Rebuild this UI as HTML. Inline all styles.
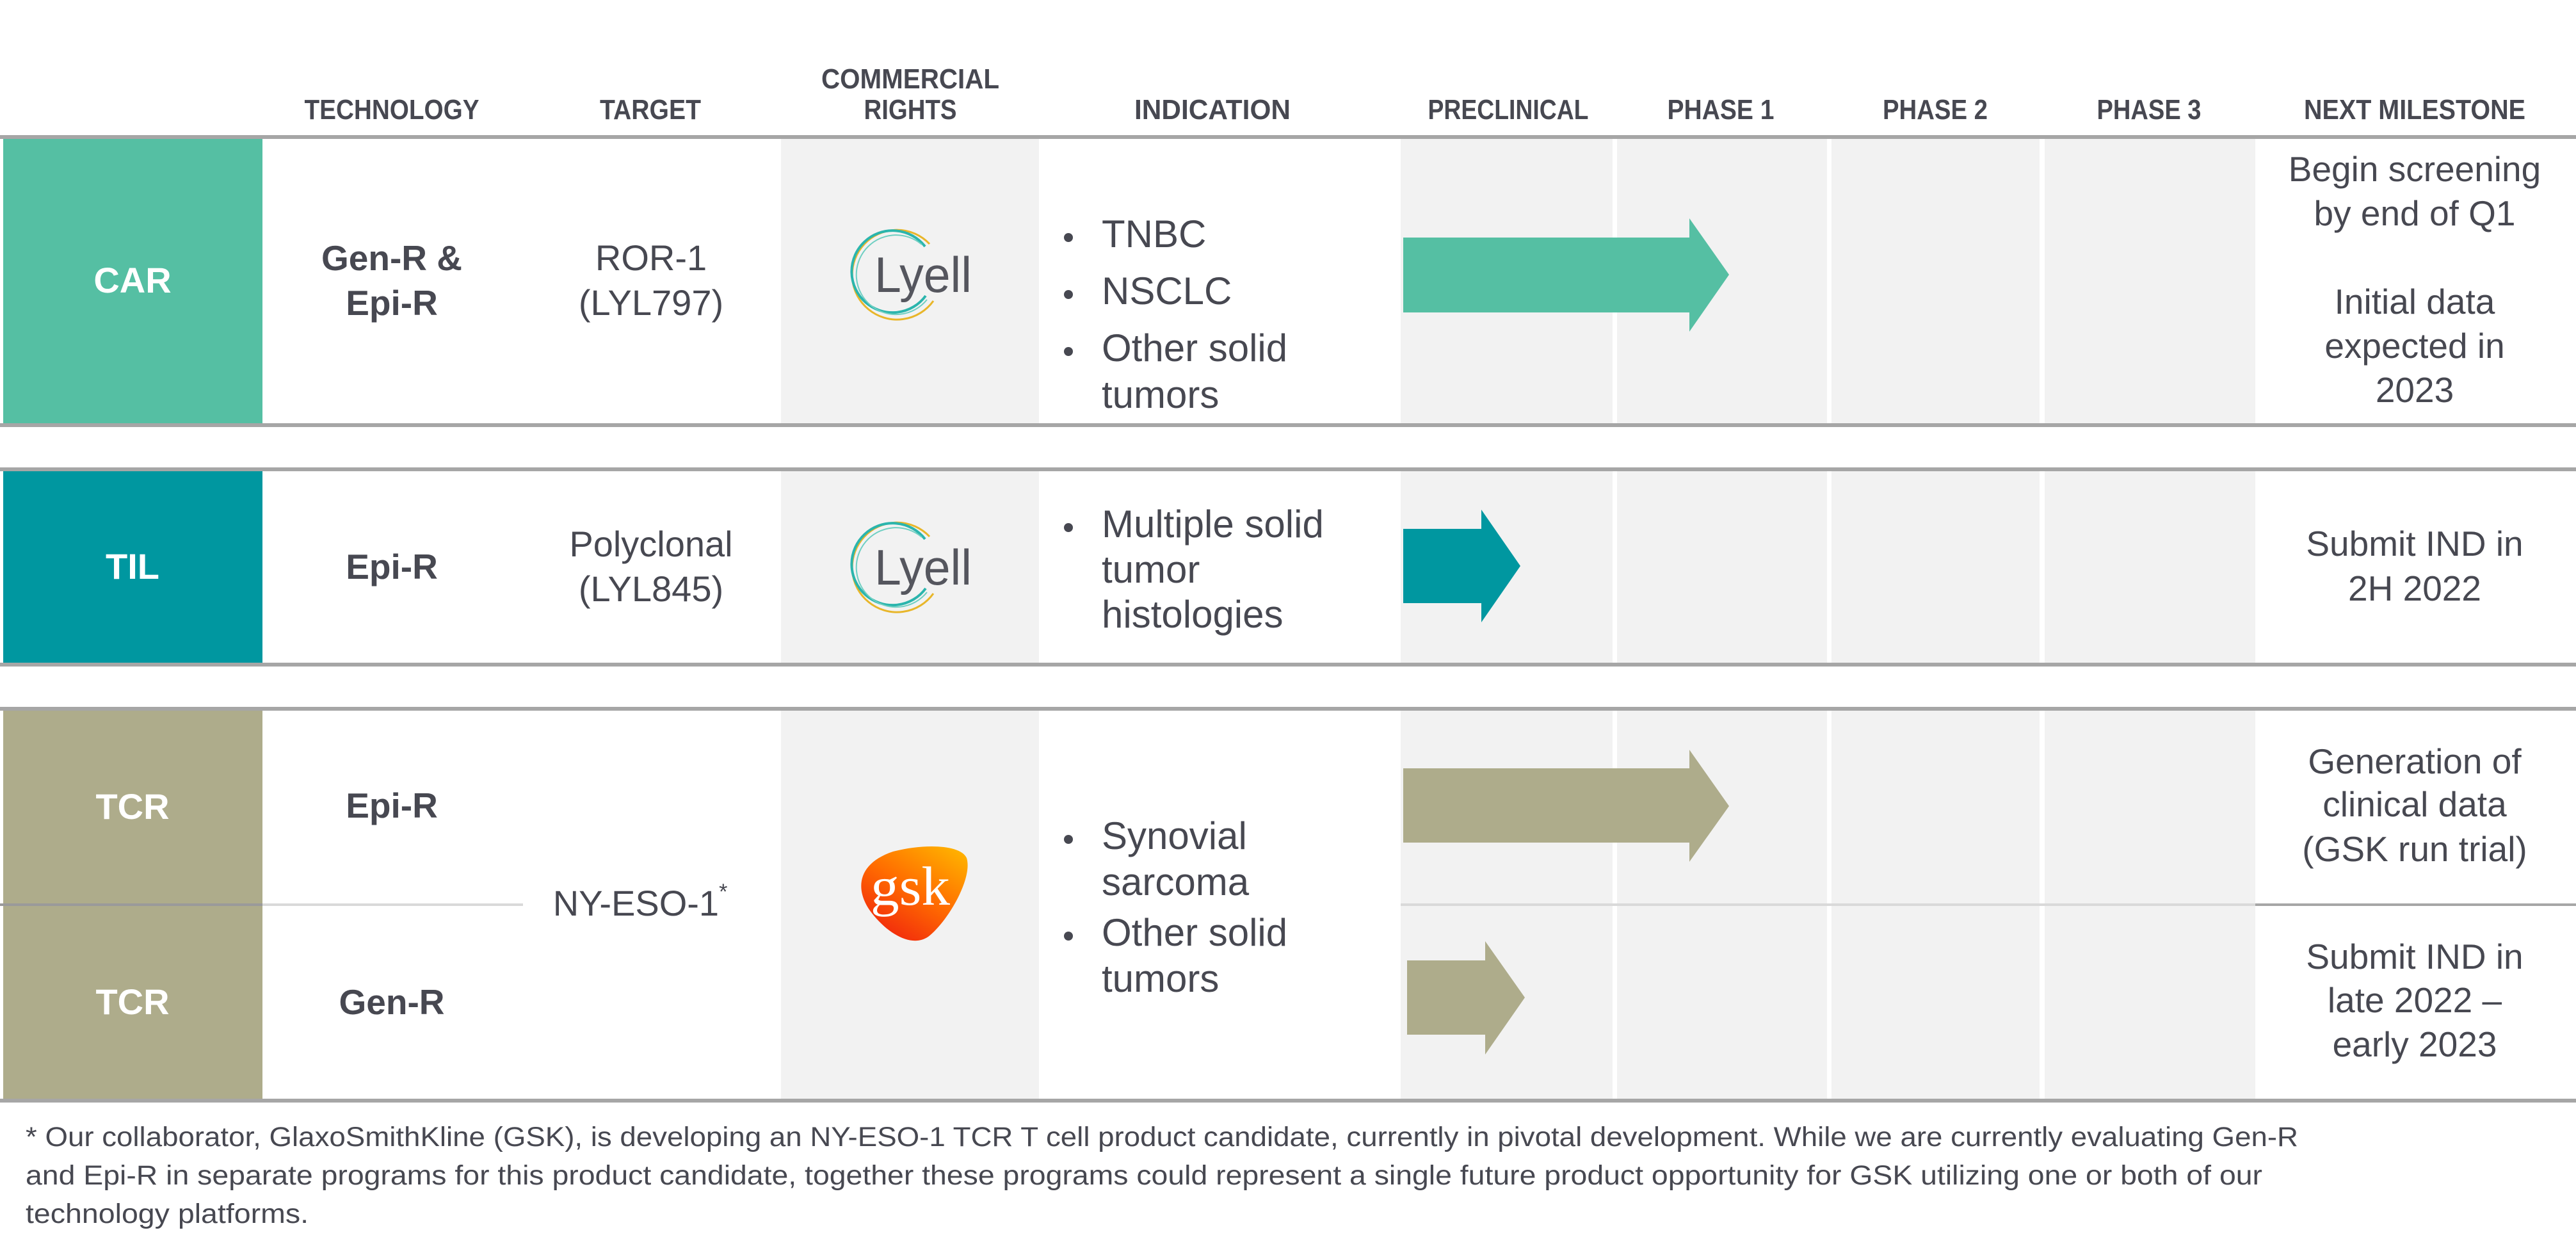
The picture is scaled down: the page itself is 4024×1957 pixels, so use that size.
<!DOCTYPE html>
<html><head><meta charset="utf-8"><style>
html,body{margin:0;padding:0;background:#fff;}
svg{display:block;}
text{font-family:"Liberation Sans",sans-serif;fill:#474851;}
.h{font-weight:bold;font-size:44px;text-anchor:middle;}
.b{font-weight:bold;font-size:55px;text-anchor:middle;}
.l{font-weight:bold;font-size:56px;text-anchor:middle;fill:#fff;}
.t{font-size:56px;text-anchor:middle;}
.i{font-size:60px;}
.m{font-size:55px;text-anchor:middle;}
.f{font-size:43px;}
</style></head><body>
<svg width="4024" height="1957" viewBox="0 0 4024 1957" xmlns="http://www.w3.org/2000/svg">
<defs>
<linearGradient id="gg" x1="0.9" y1="0" x2="0.2" y2="1">
<stop offset="0" stop-color="#ffb400"/><stop offset="0.5" stop-color="#ff6c00"/><stop offset="1" stop-color="#f0220e"/>
</linearGradient>
</defs>
<rect width="4024" height="1957" fill="#fff"/>

<!-- headers -->
<text class="h" x="612" y="186" textLength="273" lengthAdjust="spacingAndGlyphs">TECHNOLOGY</text>
<text class="h" x="1016" y="186" textLength="158" lengthAdjust="spacingAndGlyphs">TARGET</text>
<text class="h" x="1422" y="138" textLength="278" lengthAdjust="spacingAndGlyphs">COMMERCIAL</text>
<text class="h" x="1422" y="186" textLength="145" lengthAdjust="spacingAndGlyphs">RIGHTS</text>
<text class="h" x="1894" y="186" textLength="244" lengthAdjust="spacingAndGlyphs">INDICATION</text>
<text class="h" x="2356" y="186" textLength="251" lengthAdjust="spacingAndGlyphs">PRECLINICAL</text>
<text class="h" x="2688" y="186" textLength="167" lengthAdjust="spacingAndGlyphs">PHASE 1</text>
<text class="h" x="3023" y="186" textLength="164" lengthAdjust="spacingAndGlyphs">PHASE 2</text>
<text class="h" x="3357" y="186" textLength="163" lengthAdjust="spacingAndGlyphs">PHASE 3</text>
<text class="h" x="3772" y="186" textLength="346" lengthAdjust="spacingAndGlyphs">NEXT MILESTONE</text>

<!-- row backgrounds -->
<g fill="#f2f2f2">
<rect x="1220" y="216" width="403" height="446"/><rect x="2188" y="216" width="331" height="446"/><rect x="2526" y="216" width="328" height="446"/><rect x="2861" y="216" width="325" height="446"/><rect x="3194" y="216" width="329" height="446"/>
<rect x="1220" y="734" width="403" height="303"/><rect x="2188" y="734" width="331" height="303"/><rect x="2526" y="734" width="328" height="303"/><rect x="2861" y="734" width="325" height="303"/><rect x="3194" y="734" width="329" height="303"/>
<rect x="1220" y="1108" width="403" height="610"/><rect x="2188" y="1108" width="331" height="610"/><rect x="2526" y="1108" width="328" height="610"/><rect x="2861" y="1108" width="325" height="610"/><rect x="3194" y="1108" width="329" height="610"/>
</g>
<rect x="5" y="216" width="405" height="446" fill="#55bfa3"/>
<rect x="5" y="734" width="405" height="303" fill="#0097a0"/>
<rect x="5" y="1108" width="405" height="610" fill="#aeac8b"/>

<!-- lines -->
<g fill="#a6a6a6">
<rect x="0" y="211" width="4024" height="6"/>
<rect x="0" y="661" width="4024" height="6"/>
<rect x="0" y="730" width="4024" height="6"/>
<rect x="0" y="1035" width="4024" height="6"/>
<rect x="0" y="1104" width="4024" height="6"/>
<rect x="0" y="1716" width="4024" height="6"/>
</g>
<rect x="0" y="1411" width="410" height="4" fill="#9a9a9a"/>
<rect x="410" y="1411" width="407" height="4" fill="#d9d9d9"/>
<rect x="2188" y="1411" width="1335" height="4" fill="#d9d9d9"/>
<rect x="3523" y="1411" width="501" height="4" fill="#a6a6a6"/>

<!-- arrows -->
<polygon points="2192,371 2639,371 2639,341 2701,429 2639,518 2639,488 2192,488" fill="#55bfa3"/>
<polygon points="2192,826 2314,826 2314,796 2375,884 2314,972 2314,942 2192,942" fill="#0097a0"/>
<polygon points="2192,1200 2639,1200 2639,1171 2701,1259 2639,1346 2639,1316 2192,1316" fill="#aeac8b"/>
<polygon points="2198,1500 2320,1500 2320,1470 2382,1558 2320,1647 2320,1616 2198,1616" fill="#aeac8b"/>

<!-- labels -->
<text class="l" x="207" y="457">CAR</text>
<text class="l" x="207" y="904">TIL</text>
<text class="l" x="207" y="1279">TCR</text>
<text class="l" x="207" y="1584">TCR</text>

<!-- technology -->
<text class="b" x="612" y="422">Gen-R &amp;</text>
<text class="b" x="612" y="492">Epi-R</text>
<text class="b" x="612" y="904">Epi-R</text>
<text class="b" x="612" y="1277">Epi-R</text>
<text class="b" x="612" y="1584">Gen-R</text>

<!-- target -->
<text class="t" x="1017" y="422">ROR-1</text>
<text class="t" x="1017" y="492">(LYL797)</text>
<text class="t" x="1017" y="869">Polyclonal</text>
<text class="t" x="1017" y="939">(LYL845)</text>
<text class="t" x="1000" y="1430">NY-ESO-1<tspan font-size="34" dy="-26">*</tspan></text>

<!-- Lyell logos -->
<g id="ly">
<path d="M1452,381 A70,70 0 1 0 1458,470" fill="none" stroke="#e8b62a" stroke-width="3"/>
<path d="M1445,385 A64,64 0 1 0 1446,462" fill="none" stroke="#2bb5ad" stroke-width="4"/>
<path d="M1440,382 A62,62 0 1 0 1448,468" fill="none" stroke="#6fcfc2" stroke-width="2"/>
<text x="1366" y="456" font-size="78" style="fill:#55565e" textLength="152" lengthAdjust="spacingAndGlyphs">Lyell</text>
</g>
<use href="#ly" transform="translate(0,457)"/>

<!-- gsk logo -->
<path d="M1395,1330 C1440,1318 1500,1318 1510,1340 C1520,1372 1480,1440 1450,1463 C1425,1480 1390,1460 1365,1430 C1335,1395 1335,1350 1395,1330 Z" fill="url(#gg)"/>
<text x="1360" y="1413" font-size="86" style="fill:#fff;font-family:'Liberation Serif',serif" textLength="124" lengthAdjust="spacingAndGlyphs">gsk</text>

<!-- indications -->
<g class="i">
<circle cx="1669" cy="371" r="7" fill="#474851"/><text class="i" x="1721" y="386">TNBC</text>
<circle cx="1669" cy="460" r="7" fill="#474851"/><text class="i" x="1721" y="475">NSCLC</text>
<circle cx="1669" cy="549" r="7" fill="#474851"/><text class="i" x="1721" y="564">Other solid</text>
<text class="i" x="1721" y="637">tumors</text>

<circle cx="1669" cy="824" r="7" fill="#474851"/><text class="i" x="1721" y="839">Multiple solid</text>
<text class="i" x="1721" y="910">tumor</text>
<text class="i" x="1721" y="980">histologies</text>

<circle cx="1669" cy="1311" r="7" fill="#474851"/><text class="i" x="1721" y="1326">Synovial</text>
<text class="i" x="1721" y="1398">sarcoma</text>
<circle cx="1669" cy="1462" r="7" fill="#474851"/><text class="i" x="1721" y="1477">Other solid</text>
<text class="i" x="1721" y="1549">tumors</text>
</g>

<!-- milestones -->
<text class="m" x="3772" y="283">Begin screening</text>
<text class="m" x="3772" y="352">by end of Q1</text>
<text class="m" x="3772" y="490">Initial data</text>
<text class="m" x="3772" y="559">expected in</text>
<text class="m" x="3772" y="628">2023</text>
<text class="m" x="3772" y="868">Submit IND in</text>
<text class="m" x="3772" y="938">2H 2022</text>
<text class="m" x="3772" y="1208">Generation of</text>
<text class="m" x="3772" y="1275">clinical data</text>
<text class="m" x="3772" y="1345">(GSK run trial)</text>
<text class="m" x="3772" y="1513">Submit IND in</text>
<text class="m" x="3772" y="1581">late 2022 –</text>
<text class="m" x="3772" y="1650">early 2023</text>

<!-- footnote -->
<text class="f" x="40" y="1790" textLength="3550" lengthAdjust="spacingAndGlyphs">* Our collaborator, GlaxoSmithKline (GSK), is developing an NY-ESO-1 TCR T cell product candidate, currently in pivotal development. While we are currently evaluating Gen-R</text>
<text class="f" x="40" y="1850" textLength="3494" lengthAdjust="spacingAndGlyphs">and Epi-R in separate programs for this product candidate, together these programs could represent a single future product opportunity for GSK utilizing one or both of our</text>
<text class="f" x="40" y="1910" textLength="442" lengthAdjust="spacingAndGlyphs">technology platforms.</text>
</svg>
</body></html>
